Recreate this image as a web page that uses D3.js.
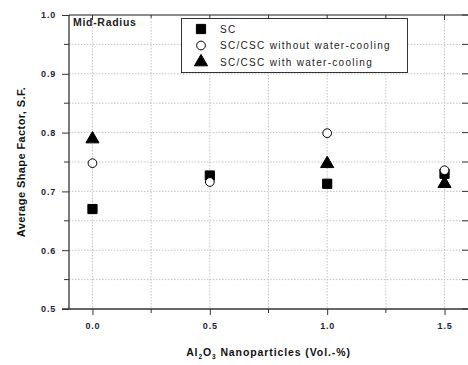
<!DOCTYPE html>
<html>
<head>
<meta charset="utf-8">
<script src="https://cdn.jsdelivr.net/npm/d3@7"></script>
<style>
  body { margin: 0; background: #fff; }
  svg { display: block; font-family: "Liberation Sans", Arial, sans-serif; }
  .tick text { font-weight: bold; font-size: 9px; letter-spacing: 0.8px; fill: #1e1e3a; }
  .legend text { font-size: 10px; letter-spacing: 1.3px; fill: #222; }
  .grid line { stroke: #c4c4c4; stroke-dasharray: 1.5,1.5; }
</style>
</head>
<body>
<div id="graph"></div>
<script>
const xValues = [0.0, 0.5, 1.0, 1.5];
const scValues = [0.670, 0.727, 0.713, 0.730];
const withoutCooling = [0.748, 0.716, 0.799, 0.736];
const withCooling = [0.789, null, 0.747, 0.713];
const xTicks = [0.0, 0.5, 1.0, 1.5];
const yTicks = [0.5, 0.6, 0.7, 0.8, 0.9, 1.0];
const seriesNames = ["SC", "SC/CSC without water-cooling", "SC/CSC with water-cooling"];

const width = 468, height = 365;
const plot = {left: 69, right: 468, top: 15, bottom: 309};

const xScale = d3.scaleLinear().domain([-0.1, 1.6]).range([plot.left, plot.right]);
const yScale = d3.scaleLinear().domain([0.5, 1.0]).range([plot.bottom, plot.top]);

const svg = d3.select("#graph").append("svg")
	.attr("width", width)
	.attr("height", height);

// grid (dotted, major + minor)
const xGrid = d3.range(0, 1.51, 0.25);
const yGrid = d3.range(0.55, 0.96, 0.05);
const grid = svg.append("g").attr("class", "grid");
grid.selectAll(".gx").data(xGrid).enter().append("line")
	.attr("x1", d => xScale(d)).attr("x2", d => xScale(d))
	.attr("y1", plot.top).attr("y2", plot.bottom);
grid.selectAll(".gy").data(yGrid).enter().append("line")
	.attr("x1", plot.left).attr("x2", plot.right)
	.attr("y1", d => yScale(d)).attr("y2", d => yScale(d));

// top frame line + inward ticks
svg.append("line")
	.attr("x1", plot.left).attr("x2", plot.right)
	.attr("y1", plot.top).attr("y2", plot.top)
	.attr("stroke", "#666").attr("stroke-width", 1.5);
svg.append("g").selectAll("line").data(xGrid).enter().append("line")
	.attr("x1", d => xScale(d)).attr("x2", d => xScale(d))
	.attr("y1", plot.top).attr("y2", (d, i) => plot.top + (i % 2 ? 3 : 5))
	.attr("stroke", "#333");

// right side inward ticks
svg.append("g").selectAll("line").data(d3.range(0.5, 1.01, 0.05)).enter().append("line")
	.attr("x1", plot.right - 6).attr("x2", plot.right)
	.attr("y1", d => yScale(d)).attr("y2", d => yScale(d))
	.attr("stroke", "#333");

// axes
const xAxis = d3.axisBottom(xScale).tickValues(xTicks).tickFormat(d3.format(".1f")).tickSize(6).tickPadding(8);
const yAxis = d3.axisLeft(yScale).tickValues(yTicks).tickFormat(d3.format(".1f")).tickSize(7).tickPadding(6);

const gx = svg.append("g")
	.attr("transform", "translate(0," + plot.bottom + ")")
	.call(xAxis);
gx.select(".domain").attr("d", "M" + (plot.left - 7) + ",0H" + plot.right).attr("stroke", "#333").attr("stroke-width", 1.3);
gx.selectAll(".tick line").attr("stroke", "#333");
gx.selectAll(".minor").data([0.25, 0.75, 1.25]).enter().append("line")
	.attr("x1", d => xScale(d)).attr("x2", d => xScale(d))
	.attr("y1", 0).attr("y2", 4).attr("stroke", "#333");

const gy = svg.append("g")
	.attr("transform", "translate(" + plot.left + ",0)")
	.call(yAxis);
gy.select(".domain").attr("d", "M0," + plot.top + "V" + plot.bottom).attr("stroke", "#333").attr("stroke-width", 1.3);
gy.selectAll(".tick line").attr("stroke", "#333");
gy.selectAll(".minor").data([0.55, 0.65, 0.75, 0.85, 0.95]).enter().append("line")
	.attr("x1", -5).attr("x2", 0)
	.attr("y1", d => yScale(d)).attr("y2", d => yScale(d)).attr("stroke", "#333");

// axis titles
svg.append("text")
	.attr("transform", "rotate(-90)")
	.attr("x", -(plot.top + plot.bottom) / 2)
	.attr("y", 25)
	.attr("text-anchor", "middle")
	.style("font-size", "11px").style("font-weight", "bold").style("fill", "#111")
	.style("letter-spacing", "0.4px")
	.text("Average Shape Factor, S.F.");

const xt = svg.append("text")
	.attr("x", (plot.left + plot.right) / 2)
	.attr("y", 356)
	.attr("text-anchor", "middle")
	.style("font-size", "10.5px").style("font-weight", "bold").style("fill", "#111")
	.style("letter-spacing", "0.9px");
xt.append("tspan").text("Al");
xt.append("tspan").attr("dy", 3).style("font-size", "6.5px").text("2");
xt.append("tspan").attr("dy", -3).text("O");
xt.append("tspan").attr("dy", 3).style("font-size", "6.5px").text("3");
xt.append("tspan").attr("dy", -3).text(" Nanoparticles (Vol.-%)");

svg.append("text")
	.attr("x", 73).attr("y", 26)
	.style("font-size", "10.5px").style("font-weight", "bold").style("fill", "#222")
	.style("letter-spacing", "0.7px")
	.text("Mid-Radius");

// markers
const symSquare = d3.symbol().type(d3.symbolSquare).size(85);
const symCircle = d3.symbol().type(d3.symbolCircle).size(60);
const symTriangle = d3.symbol().type(d3.symbolTriangle).size(75);

function drawSeries(values, sym, fill) {
	svg.append("g").selectAll("path")
		.data(values.map((v, i) => ({x: xValues[i], y: v})).filter(d => d.y !== null))
		.enter().append("path")
		.attr("d", sym)
		.attr("transform", d => "translate(" + xScale(d.x) + "," + yScale(d.y) + ")")
		.attr("fill", fill)
		.attr("stroke", "#000")
		.attr("stroke-width", 1);
}
drawSeries(scValues, symSquare, "#000");
drawSeries(withoutCooling, symCircle, "#fff");
drawSeries(withCooling, symTriangle, "#000");

// legend
const legend = svg.append("g").attr("class", "legend");
legend.append("rect")
	.attr("x", 181.5).attr("y", 18.5).attr("width", 226).attr("height", 54)
	.attr("fill", "#fff").attr("stroke", "#333").attr("stroke-width", 1);
const syms = [symSquare, symCircle, symTriangle];
const fills = ["#000", "#fff", "#000"];
seriesNames.forEach((name, i) => {
	const y = 29 + i * 16.5;
	legend.append("path")
		.attr("d", syms[i])
		.attr("transform", "translate(201," + y + ")")
		.attr("fill", fills[i]).attr("stroke", "#000");
	legend.append("text")
		.attr("x", 220).attr("y", y + 3.5)
		.text(name);
});
</script>
</body>
</html>
